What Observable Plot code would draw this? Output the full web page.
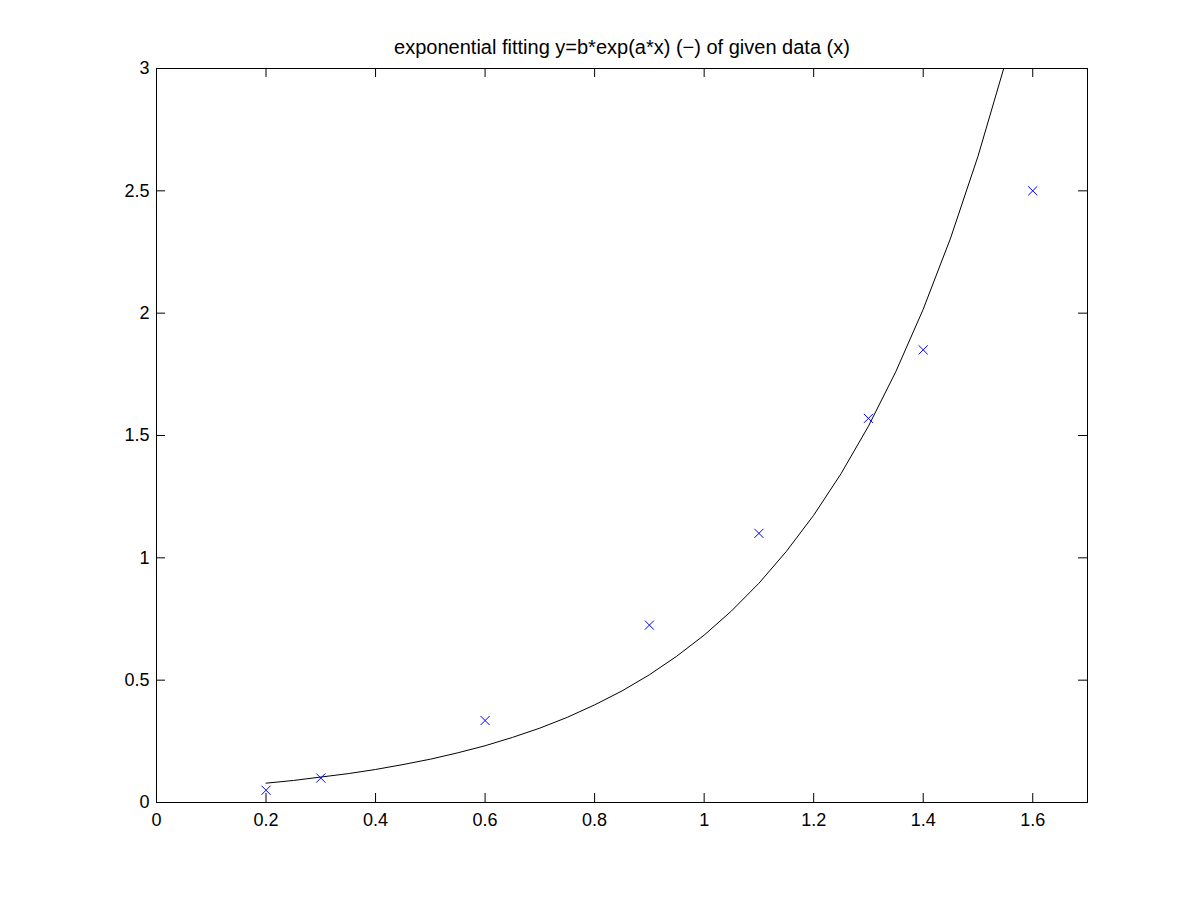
<!DOCTYPE html>
<html>
<head>
<meta charset="utf-8">
<script src="https://cdn.jsdelivr.net/npm/d3@7"></script>
<script src="https://cdn.jsdelivr.net/npm/@observablehq/plot@0.6"></script>
<style>
  html, body { margin: 0; padding: 0; background: #ffffff; }
  #chart svg { display: block; }
</style>
</head>
<body>
<div id="chart"></div>
<script>
const titleText = "exponential fitting y=b*exp(a*x) (\u2212) of given data (x)";

// given data (x markers)
const pointX = [0.2, 0.3, 0.6, 0.9, 1.1, 1.3, 1.4, 1.6];
const pointY = [0.05, 0.10, 0.335, 0.725, 1.10, 1.57, 1.85, 2.50];

// fitted curve
const curveX = [0.2, 0.25, 0.3, 0.35, 0.4, 0.45, 0.5, 0.55, 0.6, 0.65, 0.7, 0.75, 0.8, 0.85, 0.9, 0.95, 1.0, 1.05, 1.1, 1.15, 1.2, 1.25, 1.3, 1.35, 1.4, 1.45, 1.5, 1.55, 1.6];
const curveY = [0.079, 0.090, 0.104, 0.118, 0.135, 0.155, 0.177, 0.203, 0.232, 0.266, 0.304, 0.348, 0.399, 0.456, 0.522, 0.598, 0.684, 0.783, 0.896, 1.026, 1.174, 1.344, 1.538, 1.761, 2.016, 2.307, 2.641, 3.023, 3.46];

const xTicks = [0, 0.2, 0.4, 0.6, 0.8, 1.0, 1.2, 1.4, 1.6];
const xTickLabels = ["0", "0.2", "0.4", "0.6", "0.8", "1", "1.2", "1.4", "1.6"];
const yTicks = [0, 0.5, 1.0, 1.5, 2.0, 2.5, 3.0];
const yTickLabels = ["0", "0.5", "1", "1.5", "2", "2.5", "3"];

const points = pointX.map((x, i) => ({x, y: pointY[i]}));
const curve = curveX.map((x, i) => ({x, y: curveY[i]}));

const W = 1201, H = 901;
const mTop = 68, mBottom = 99, mLeft = 156, mRight = 114;
const plotH = H - mTop - mBottom;
const plotW = W - mLeft - mRight;
const tickLen = 9;

const xLabel = new Map(xTicks.map((t, i) => [t, xTickLabels[i]]));
const yLabel = new Map(yTicks.map((t, i) => [t, yTickLabels[i]]));

const chart = Plot.plot({
  width: W,
  height: H,
  marginTop: mTop,
  marginBottom: mBottom,
  marginLeft: mLeft,
  marginRight: mRight,
  style: {fontFamily: "'Liberation Sans', Arial, Helvetica, sans-serif", background: "#ffffff", color: "#000000"},
  x: {domain: [0, 1.7]},
  y: {domain: [0, 3]},
  marks: [
    Plot.axisX({ticks: xTicks, tickSize: 0, tickPadding: 11, tickFormat: d => xLabel.get(d), fontSize: 18, label: null}),
    Plot.axisY({ticks: yTicks, tickSize: 0, tickPadding: 7, tickFormat: d => yLabel.get(d), fontSize: 18, label: null}),
    // inward ticks on all four sides
    Plot.tickX(xTicks, {x: d => d, insetTop: plotH - tickLen, stroke: "black"}),
    Plot.tickX(xTicks, {x: d => d, insetBottom: plotH - tickLen, stroke: "black"}),
    Plot.tickY(yTicks, {y: d => d, insetRight: plotW - tickLen, stroke: "black"}),
    Plot.tickY(yTicks, {y: d => d, insetLeft: plotW - tickLen, stroke: "black"}),
    Plot.line(curve, {x: "x", y: "y", stroke: "black", strokeWidth: 1, clip: true}),
    Plot.dot(points, {x: "x", y: "y", symbol: "times", r: 4.2, stroke: "#0000ff", strokeWidth: 1}),
    Plot.frame({stroke: "black", strokeWidth: 1}),
    Plot.text([titleText], {text: d => d, frameAnchor: "top", lineAnchor: "bottom", dy: -15, fontSize: 20, fill: "black"})
  ]
});

document.getElementById("chart").appendChild(chart);
</script>
</body>
</html>
